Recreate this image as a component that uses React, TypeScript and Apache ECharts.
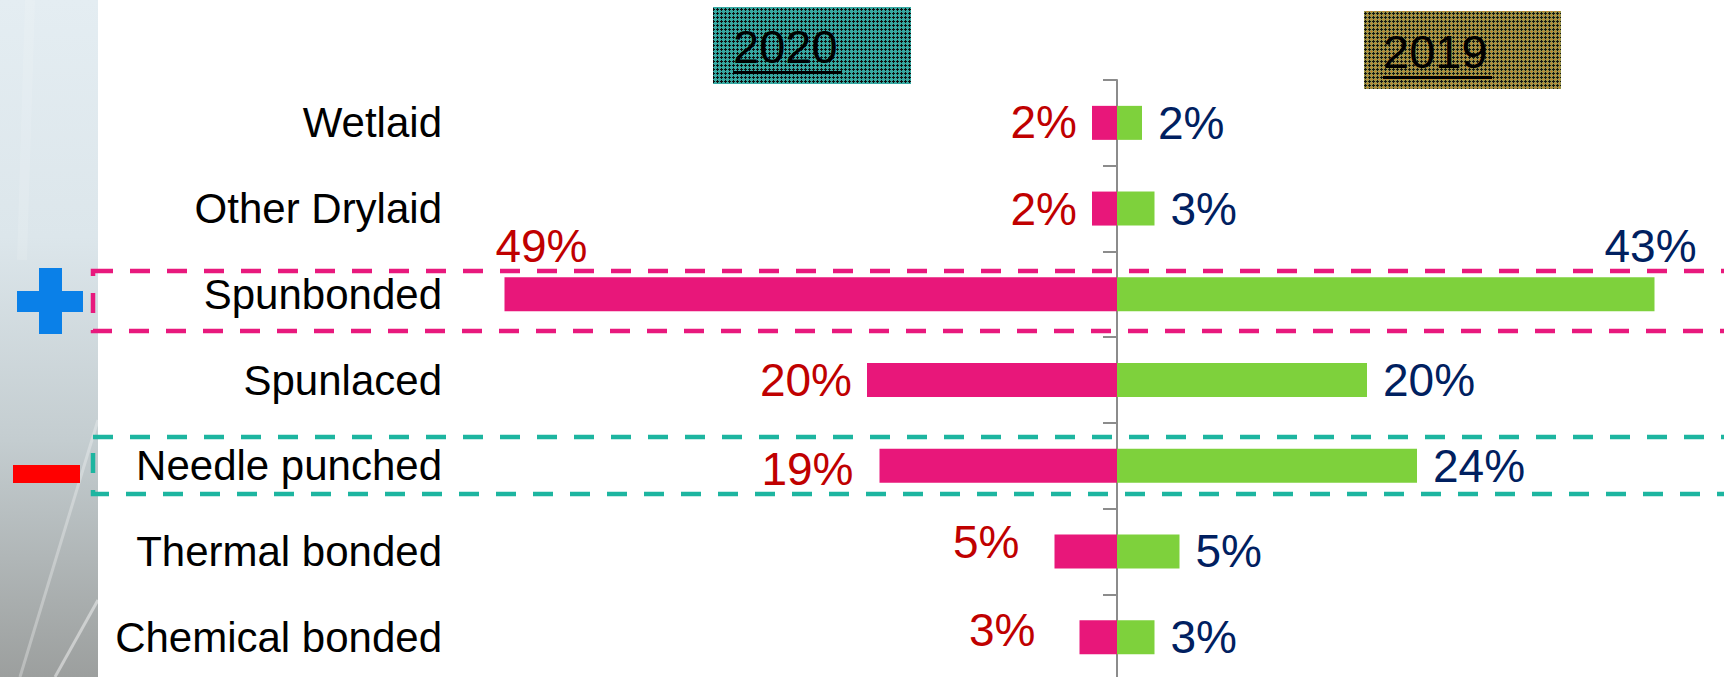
import React, { useEffect, useRef } from "react";
import * as echarts from "echarts";

const categories = [
  "Wetlaid",
  "Other Drylaid",
  "Spunbonded",
  "Spunlaced",
  "Needle punched",
  "Thermal bonded",
  "Chemical bonded",
];
const share2020 = [2, 2, 49, 20, 19, 5, 3];
const share2019 = [2, 3, 43, 20, 24, 5, 3];
const headerLeft = "2020";
const headerRight = "2019";

// label nudges (layout only)
const nudge2020: Record<number, number[]> = { 0: [0, -1], 2: [98, -48], 4: [-11, 3], 5: [-20, -9], 6: [-29, -7] };
const nudge2019: Record<number, number[]> = { 2: [-66, -48] };

const FONT = "'Liberation Sans', Arial, sans-serif";

function makeTile(base: string, dark: string, accent?: string) {
  const c = document.createElement("canvas");
  c.width = 4;
  c.height = 4;
  const ctx = c.getContext("2d")!;
  ctx.fillStyle = base;
  ctx.fillRect(0, 0, 4, 4);
  ctx.fillStyle = dark;
  [[1, 0], [0, 1], [1, 1], [2, 1], [1, 2]].forEach(([x, y]) => ctx.fillRect(x, y, 1, 1));
  if (accent) {
    ctx.fillStyle = accent;
    ctx.fillRect(3, 3, 1, 1);
  }
  return c.toDataURL();
}

export default function App() {
  const ref = useRef<HTMLDivElement>(null);
  useEffect(() => {
    const chart = echarts.init(ref.current!, null, { renderer: "svg" });
    const tealTile = makeTile("#36A8A1", "#101010");
    const oliveTile = makeTile("#9A9448", "#151510", "#E8741E");

    const leftData = share2020.map((v, i) => {
      const o: any = { value: -v };
      if (nudge2020[i]) o.label = { offset: nudge2020[i] };
      return o;
    });
    const rightData = share2019.map((v, i) => {
      const o: any = { value: v };
      if (nudge2019[i]) o.label = { offset: nudge2019[i] };
      return o;
    });

    chart.setOption({
      animation: false,
      backgroundColor: "#ffffff",
      grid: { left: 492, top: 80, width: 1225, height: 600, containLabel: false, outerBoundsMode: "none" },
      xAxis: { type: "value", min: -50, max: 48, show: false },
      yAxis: {
        type: "category",
        data: categories,
        inverse: true,
        axisLine: { show: true, onZero: true, lineStyle: { color: "#8C8C8C", width: 2 } },
        axisTick: { show: true, length: 14, lineStyle: { color: "#8C8C8C", width: 2 } },
        axisLabel: { margin: 50, fontSize: 42, color: "#000000", fontFamily: FONT },
        splitLine: { show: false },
      },
      graphic: [
        {
          type: "rect",
          shape: { x: 0, y: 0, width: 98, height: 677 },
          style: {
            fill: {
              type: "linear", x: 0, y: 0, x2: 0, y2: 1,
              colorStops: [
                { offset: 0, color: "#E4EDF2" },
                { offset: 0.35, color: "#DCE6EB" },
                { offset: 0.65, color: "#C4CDD0" },
                { offset: 1, color: "#9C9F9E" },
              ],
            },
          },
          z: -10,
        },
        { type: "line", shape: { x1: 98, y1: 420, x2: 20, y2: 677 }, style: { stroke: "rgba(255,255,255,0.3)", lineWidth: 3 }, z: -9 },
        { type: "line", shape: { x1: 98, y1: 600, x2: 55, y2: 677 }, style: { stroke: "rgba(255,255,255,0.45)", lineWidth: 3 }, z: -9 },
        { type: "line", shape: { x1: 30, y1: 0, x2: 22, y2: 260 }, style: { stroke: "rgba(255,255,255,0.12)", lineWidth: 10 }, z: -9 },
        // plus / minus
        { type: "rect", shape: { x: 17, y: 291, width: 66, height: 21 }, style: { fill: "#0A80E8" } },
        { type: "rect", shape: { x: 39, y: 268, width: 23, height: 66 }, style: { fill: "#0A80E8" } },
        { type: "rect", shape: { x: 13, y: 465, width: 67, height: 18 }, style: { fill: "#FF0000" } },
        // dashed highlight boxes
        {
          type: "rect",
          shape: { x: 93, y: 271, width: 1700, height: 60 },
          style: { fill: "none", stroke: "#E8197D", lineWidth: 4.5, lineDash: [20, 17] },
          z: 10,
        },
        {
          type: "rect",
          shape: { x: 93, y: 437, width: 1700, height: 57 },
          style: { fill: "none", stroke: "#1DB5A0", lineWidth: 4.5, lineDash: [20, 17] },
          z: 10,
        },
        // headers
        {
          type: "rect",
          shape: { x: 713, y: 7, width: 198, height: 77 },
          style: { fill: { image: tealTile, repeat: "repeat", imageWidth: 4, imageHeight: 4 } },
        },
        {
          type: "text",
          x: 733, y: 46,
          style: { text: headerLeft, fontSize: 47, fontFamily: FONT, fill: "#000", verticalAlign: "middle", align: "left" },
          z: 5,
        },
        { type: "rect", shape: { x: 733, y: 71, width: 109, height: 3 }, style: { fill: "#000" }, z: 5 },
        {
          type: "rect",
          shape: { x: 1364, y: 11, width: 197, height: 78 },
          style: { fill: { image: oliveTile, repeat: "repeat", imageWidth: 4, imageHeight: 4 } },
        },
        {
          type: "text",
          x: 1383, y: 51,
          style: { text: headerRight, fontSize: 47, fontFamily: FONT, fill: "#000", verticalAlign: "middle", align: "left" },
          z: 5,
        },
        { type: "rect", shape: { x: 1383, y: 76, width: 109, height: 3 }, style: { fill: "#000" }, z: 5 },
      ],
      series: [
        {
          name: headerLeft,
          type: "bar",
          stack: "share",
          barWidth: 34,
          data: leftData,
          itemStyle: { color: "#E8177A" },
          label: {
            show: true,
            position: "left",
            distance: 15,
            fontSize: 46,
            fontFamily: FONT,
            color: "#C00000",
            formatter: (p: any) => Math.abs(p.value) + "%",
          },
        },
        {
          name: headerRight,
          type: "bar",
          stack: "share",
          barWidth: 34,
          data: rightData,
          itemStyle: { color: "#7ED13C" },
          label: {
            show: true,
            position: "right",
            distance: 16,
            fontSize: 46,
            fontFamily: FONT,
            color: "#002060",
            formatter: (p: any) => Math.abs(p.value) + "%",
          },
        },
      ],
    });
    return () => chart.dispose();
  }, []);
  return (
    <div
      ref={ref}
      style={{ position: "absolute", left: 0, top: 0, width: 1724, height: 677 }}
    />
  );
}
